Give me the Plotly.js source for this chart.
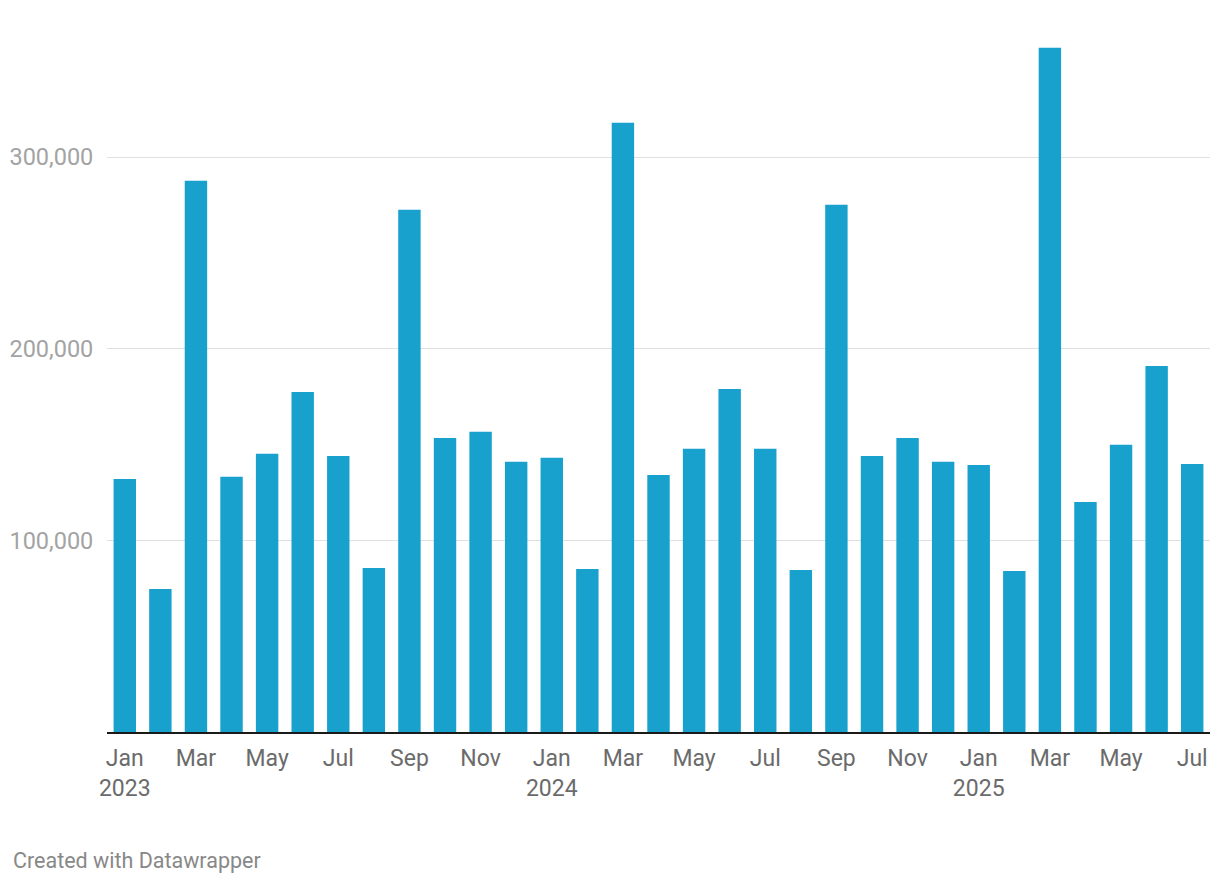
<!DOCTYPE html>
<html>
<head>
<meta charset="utf-8">
<script src="https://cdn.plot.ly/plotly-3.0.1.min.js"></script>
<style>html,body{margin:0;padding:0;background:#fff;}#chart{width:1220px;height:884px;}</style>
</head>
<body>
<div id="chart"></div>
<script>
const months = ["2023-01","2023-02","2023-03","2023-04","2023-05","2023-06","2023-07","2023-08","2023-09","2023-10","2023-11","2023-12",
"2024-01","2024-02","2024-03","2024-04","2024-05","2024-06","2024-07","2024-08","2024-09","2024-10","2024-11","2024-12",
"2025-01","2025-02","2025-03","2025-04","2025-05","2025-06","2025-07"];
const values = [132100,74700,287700,133200,145200,177500,144100,85600,272600,153500,156700,141000,
143100,85100,318000,134200,147800,179100,147800,84600,275200,144100,153500,141000,
139400,84100,357200,120100,149900,191100,139900];
const xTickVals = ["2023-01","2023-03","2023-05","2023-07","2023-09","2023-11","2024-01","2024-03","2024-05","2024-07","2024-09","2024-11","2025-01","2025-03","2025-05","2025-07"];
const xTickText = ["Jan<br>2023","Mar","May","Jul","Sep","Nov","Jan<br>2024","Mar","May","Jul","Sep","Nov","Jan<br>2025","Mar","May","Jul"];
const yTickVals = [100000,200000,300000];
const yTickText = ["100,000","200,000","300,000"];
const footer = "Created with Datawrapper";

const L = 107, R = 10, T = 4, B = 152, W = 1220, H = 884;
const pw = W - L - R, ph = H - T - B;

Plotly.newPlot('chart', [{
  type: 'bar',
  x: months,
  y: values,
  marker: {color: '#18a1cd'},
  hoverinfo: 'none'
}], {
  width: W, height: H,
  margin: {l: L, r: R, t: T, b: B},
  paper_bgcolor: '#fff', plot_bgcolor: '#fff',
  bargap: 0.37,
  showlegend: false,
  font: {family: 'Roboto, sans-serif'},
  xaxis: {
    type: 'category',
    tickvals: xTickVals, ticktext: xTickText,
    tickfont: {size: 23, color: '#6b6b6b'},
    showgrid: false,
    showline: true, linecolor: '#1a1a1a', linewidth: 2,
    ticks: 'outside', ticklen: 4, tickcolor: 'rgba(0,0,0,0)',
    fixedrange: true
  },
  yaxis: {
    range: [0, 380000],
    tickvals: yTickVals, ticktext: yTickText,
    tickfont: {size: 23.5, color: '#a3a3a3'},
    showgrid: true, gridcolor: '#e0e0e0', gridwidth: 1,
    zeroline: false, showline: false,
    ticks: 'outside', ticklen: 8, tickcolor: 'rgba(0,0,0,0)',
    fixedrange: true
  },
  annotations: [{
    text: footer, showarrow: false,
    xref: 'paper', yref: 'paper',
    x: (11 - L) / pw, y: (732 - 860) / ph,
    xanchor: 'left', yanchor: 'middle',
    font: {size: 21.5, color: '#888888', family: 'Roboto, sans-serif'}
  }]
}, {displayModeBar: false, staticPlot: true});
</script>
</body>
</html>
